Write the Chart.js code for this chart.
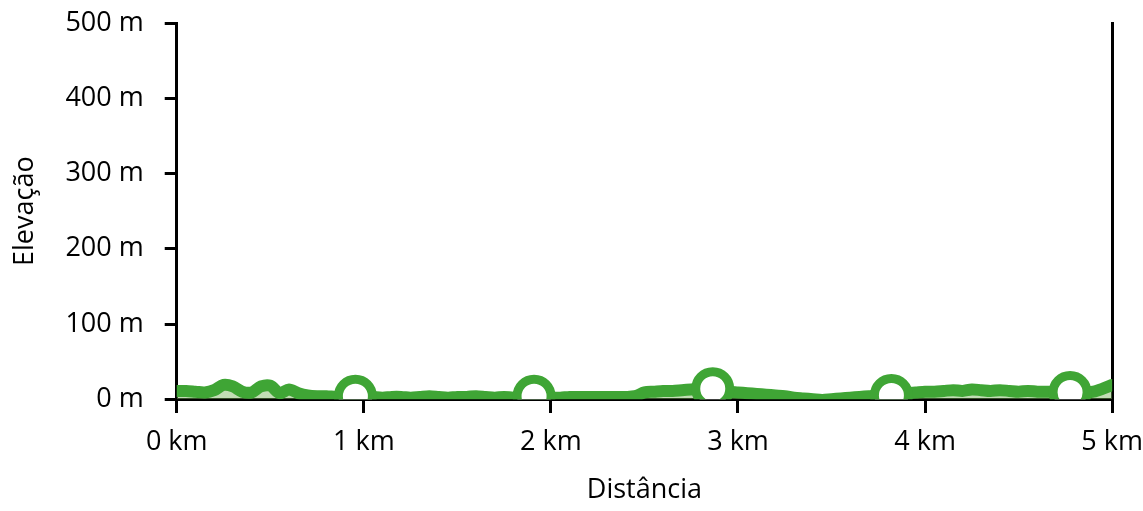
<!DOCTYPE html>
<html>
<head>
<meta charset="utf-8">
<script src="https://cdn.jsdelivr.net/npm/chart.js@4"></script>
<style>
  html, body { margin: 0; padding: 0; background: #fff; }
  #wrap { width: 1143px; height: 511px; }
</style>
</head>
<body>
<div id="wrap"><canvas id="myChart"></canvas></div>
<script>
// distance (km) along the route, every 50 m
const distances = [];
for (let i = 0; i <= 100; i++) distances.push(i / 20);

// elevation (m)
const elevations = [
  11, 11, 10, 9, 12, 19, 17, 10, 9, 17,
  18, 8, 13, 8, 5, 4, 4, 3, 3, 4,
  4, 3, 2, 3, 3, 2, 3, 4, 3, 2,
  3, 3, 4, 3, 2, 3, 2, 3, 4, 3,
  2, 2, 3, 3, 3, 3, 3, 3, 3, 4,
  9, 10, 11, 11, 12, 13, 14, 15, 12, 10,
  9, 8, 7, 6, 5, 4, 2, 1, 0, -1,
  0, 1, 2, 3, 4, 5, 5, 6, 8, 9,
  10, 10, 11, 12, 11, 13, 12, 11, 12, 11,
  10, 11, 10, 10, 10, 10, 10, 9, 10, 14,
  19
];

// circle markers along the profile
const markerKm = [0.955, 1.91, 2.865, 3.82, 4.775];
const markerElev = [4, 4, 14, 5, 9];

const xTicks = [0, 1, 2, 3, 4, 5];
const yTicks = [0, 100, 200, 300, 400, 500];

const green = '#3fa535';
const font = { family: 'Open Sans', size: 27 };

// profile points and markers in one series, sorted by distance
const points = distances.map((d, i) => ({ x: d, y: elevations[i], marker: false }))
  .concat(markerKm.map((k, i) => ({ x: k, y: markerElev[i], marker: true })))
  .sort((a, b) => a.x - b.x);

const ctx = document.getElementById('myChart').getContext('2d');
new Chart(ctx, {
  type: 'line',
  data: {
    datasets: [
      {
        label: 'Elevação',
        data: points,
        borderColor: green,
        borderWidth: 12,
        borderCapStyle: 'round',
        borderJoinStyle: 'round',
        backgroundColor: 'rgba(120,180,90,0.45)',
        fill: 'origin',
        pointRadius: c => (c.raw && c.raw.marker ? 17 : 0),
        pointBorderWidth: c => (c.raw && c.raw.marker ? 9 : 0),
        pointHoverRadius: 0,
        pointBackgroundColor: '#fff',
        pointBorderColor: green,
        tension: 0.3
      }
    ]
  },
  options: {
    responsive: true,
    maintainAspectRatio: false,
    animation: false,
    events: [],
    layout: { padding: { left: 9, right: 4, top: 0, bottom: 0 } },
    plugins: {
      legend: { display: false },
      tooltip: { enabled: false }
    },
    scales: {
      x: {
        type: 'linear',
        min: 0,
        max: 5,
        afterBuildTicks: (axis) => { axis.ticks = xTicks.map(v => ({ value: v })); },
        ticks: { color: '#000', font: font, padding: 0, callback: v => v + ' km' },
        // long tick slot, but only the first 12px of it is drawn
        grid: { drawOnChartArea: false, drawTicks: true, tickLength: 27, tickBorderDash: [12, 200], color: '#000', lineWidth: 3 },
        border: { display: true, color: '#000', width: 3 },
        title: { display: true, text: 'Distância', color: '#000', font: font, padding: { top: 16, bottom: 4 } }
      },
      y: {
        min: 0,
        max: 500,
        afterBuildTicks: (axis) => { axis.ticks = yTicks.map(v => ({ value: v })); },
        ticks: { color: '#000', font: font, padding: 7, callback: v => v + ' m' },
        // tick drawn from the label side: skip the first 14px, draw the rest up to the axis
        grid: { drawOnChartArea: false, drawTicks: true, tickLength: 26, tickBorderDash: [0, 14, 12, 200], color: '#000', lineWidth: 3 },
        border: { display: true, color: '#000', width: 3 },
        title: { display: true, text: 'Elevação', color: '#000', font: font, padding: { top: 0, bottom: 17 } }
      },
      y2: {
        position: 'right',
        min: 0,
        max: 500,
        ticks: { display: false },
        grid: { display: false },
        border: { display: true, color: '#000', width: 3 },
        afterFit: (axis) => { axis.width = 0; }
      }
    }
  }
});
</script>
</body>
</html>
